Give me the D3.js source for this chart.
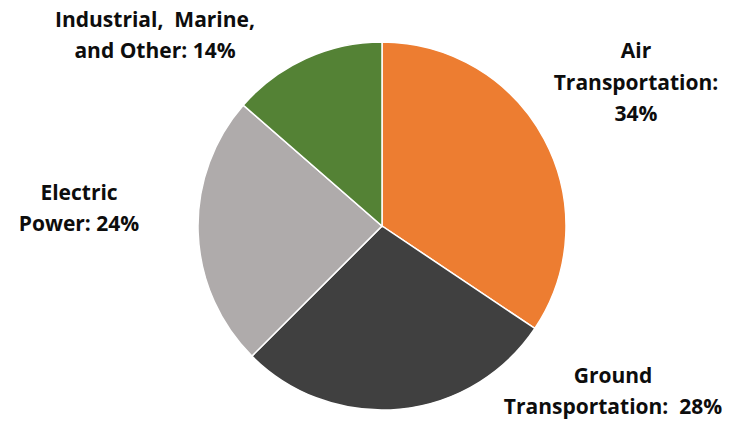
<!DOCTYPE html>
<html>
<head>
  <style>
    body { margin: 0; background: #fff; }
    .label { font-family: "Open Sans", sans-serif; font-weight: bold; font-size: 21px; fill: #0d0d0d; }
  </style>
</head>
<body>
  <svg width="729" height="422"></svg>
  <script src="https://d3js.org/d3.v7.min.js"></script>
  <script>
    // slice data, clockwise from 12 o'clock (percent)
    const categories = ["Air Transportation", "Ground Transportation", "Electric Power", "Industrial, Marine, and Other"];
    const shares = [34.4, 28.1, 23.9, 13.6];
    const labelLines = [
      ["Air", "Transportation:", "34%"],
      ["Ground", "Transportation:  28%"],
      ["Electric", "Power: 24%"],
      ["Industrial,  Marine,", "and Other: 14%"]
    ];
    const colors = ["#ED7D31", "#404040", "#AFABAB", "#548235"];

    // label anchor (center of the text block), relative to pie center
    const labelAt = [[254, -144], [231, 165], [-303, -18], [-227, -191]];

    const svg = d3.select("svg");
    const cx = 382, cy = 226, radius = 184;

    const g = svg.append("g")
      .attr("transform", "translate(" + cx + "," + cy + ")");

    const pie = d3.pie().sort(null).value(function(d) { return d; });
    const arc = d3.arc().innerRadius(0).outerRadius(radius);

    g.selectAll("path")
      .data(pie(shares))
      .enter()
      .append("path")
      .attr("d", arc)
      .attr("fill", function(d, i) { return colors[i]; })
      .attr("stroke", "#fff")
      .attr("stroke-width", 1.5);

    const lineH = 31.5;
    labelLines.forEach(function(lines, i) {
      const t = g.append("text")
        .attr("class", "label")
        .attr("text-anchor", "middle")
        .attr("x", labelAt[i][0])
        .attr("y", labelAt[i][1] - (lines.length - 1) * lineH / 2);
      lines.forEach(function(s, j) {
        t.append("tspan")
          .attr("x", labelAt[i][0])
          .attr("dy", j === 0 ? "0.36em" : lineH)
          .style("white-space", "pre")
          .text(s);
      });
    });
  </script>
</body>
</html>
